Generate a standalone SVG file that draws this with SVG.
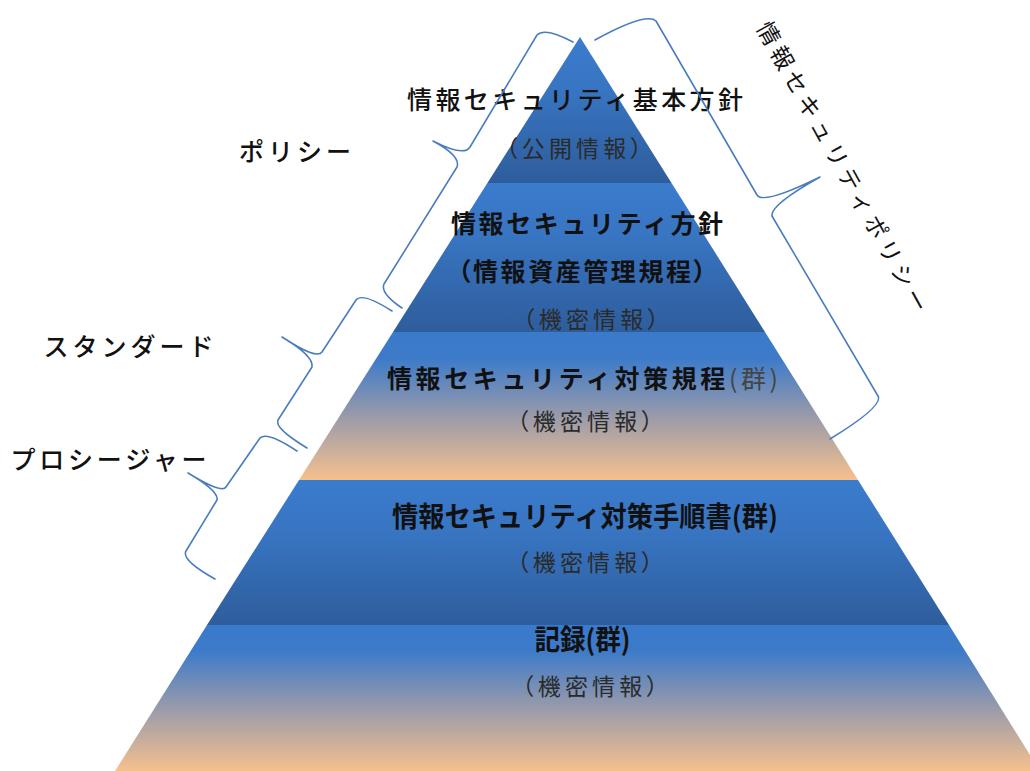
<svg xmlns="http://www.w3.org/2000/svg" width="1030" height="771" viewBox="0 0 1030 771">
  <style>
    text { font-family: "Noto Sans CJK JP", "Noto Sans", sans-serif; dominant-baseline: central; text-anchor: middle; fill: #111; }
    .t { font-size: 25px; font-weight: 700; }
    .t1 { font-size: 25px; font-weight: 500; }
    .sub { font-size: 23px; font-weight: 400; fill: #2a2a2a; }
    .lbl { font-size: 25px; font-weight: 500; fill: #111; }
    .p { font-feature-settings: "palt" 1; }
    .brace { fill: none; stroke: #4a7dbf; stroke-width: 1.6; stroke-linejoin: round; stroke-linecap: round; }
  </style>
  <defs>
    <linearGradient id="gBlue" x1="0" y1="0" x2="0" y2="1">
      <stop offset="0" stop-color="#3b7ccd"/>
      <stop offset="0.35" stop-color="#3875c2"/>
      <stop offset="1" stop-color="#2e5d9c"/>
    </linearGradient>
    <linearGradient id="gWarm" x1="0" y1="0" x2="0" y2="1">
      <stop offset="0" stop-color="#3a7acb"/>
      <stop offset="0.18" stop-color="#3d7bc9"/>
      <stop offset="0.55" stop-color="#9599ab"/>
      <stop offset="1" stop-color="#f5c08e"/>
    </linearGradient>
  </defs>
  <rect width="1030" height="771" fill="#ffffff"/>

  <g id="tier1">
    <polygon points="580,37 671.5,183 487.4,183" fill="url(#gBlue)"/>
    <text class="t1" x="575" y="98" textLength="336">情報セキュリティ基本方針</text>
    <text class="sub" x="574" y="147" textLength="136"><tspan class="p">（</tspan>公開情報<tspan class="p">）</tspan></text>
  </g>

  <g id="tier2">
    <polygon points="487.4,183 671.5,183 765,332 393,332" fill="url(#gBlue)"/>
    <text class="t" x="587" y="222" textLength="272">情報セキュリティ方針</text>
    <text class="t" x="582" y="270" textLength="248"><tspan class="p">（</tspan>情報資産管理規程<tspan class="p">）</tspan></text>
    <text class="sub" x="591" y="318" textLength="136"><tspan class="p">（</tspan>機密情報<tspan class="p">）</tspan></text>
  </g>

  <g id="tier3">
    <polygon points="393,332 765,332 858,480 299,480" fill="url(#gWarm)"/>
    <text class="t" x="582.5" y="377" font-size="26" textLength="391">情報セキュリティ対策規程<tspan font-weight="400" fill="#444">(群)</tspan></text>
    <text class="sub" x="585" y="420" textLength="136"><tspan class="p">（</tspan>機密情報<tspan class="p">）</tspan></text>
  </g>

  <g id="tier4">
    <polygon points="299,480 858,480 949,625 207,625" fill="url(#gBlue)"/>
    <text class="t" x="585" y="515" style="font-size:28px" textLength="386" lengthAdjust="spacingAndGlyphs">情報セキュリティ対策手順書(群)</text>
    <text class="sub" x="585" y="561" textLength="136"><tspan class="p">（</tspan>機密情報<tspan class="p">）</tspan></text>
  </g>

  <g id="tier5">
    <polygon points="207,625 949,625 1040,771 115,771" fill="url(#gWarm)"/>
    <text class="t" x="582.5" y="638" style="font-size:28px" textLength="96" lengthAdjust="spacingAndGlyphs">記録(群)</text>
    <text class="sub" x="590" y="685" textLength="136"><tspan class="p">（</tspan>機密情報<tspan class="p">）</tspan></text>
  </g>

  <g id="connectors">
    <path class="brace" d="M 573,42 Q 545,27 537,35 L 470,147 Q 464,157 433,141 Q 461,156 457,167 L 384,284 Q 380,293 402,308"/>
    <path class="brace" d="M 392,311 Q 362,292 356,300 L 322,352 Q 317,360 282,337 Q 314,356 312,367 L 278,420 Q 274,428 307,448"/>
    <path class="brace" d="M 297,451 Q 267,431 260,438 L 226,487 Q 222,494 188,473 Q 219,491 217,500 L 186,551 Q 181,560 215,579"/>
    <path class="brace" d="M 595,40 Q 646,12 656,21 L 757,195 Q 763,205 820,177 Q 770,205 772,216 L 878,396 Q 884,406 830,439"/>
  </g>

  <g id="label-policy">
    <text class="lbl" x="295" y="150" textLength="112">ポリシー</text>
  </g>
  <g id="label-standard">
    <text class="lbl" x="128.5" y="345" textLength="170">スタンダード</text>
  </g>
  <g id="label-procedure">
    <text class="lbl" x="108.5" y="458" textLength="196">プロシージャー</text>
  </g>
  <g id="label-security-policy">
    <text class="lbl" style="font-size:23px;font-weight:400" transform="translate(844,166) rotate(61)" textLength="328">情報セキュリティポリシー</text>
  </g>
</svg>
